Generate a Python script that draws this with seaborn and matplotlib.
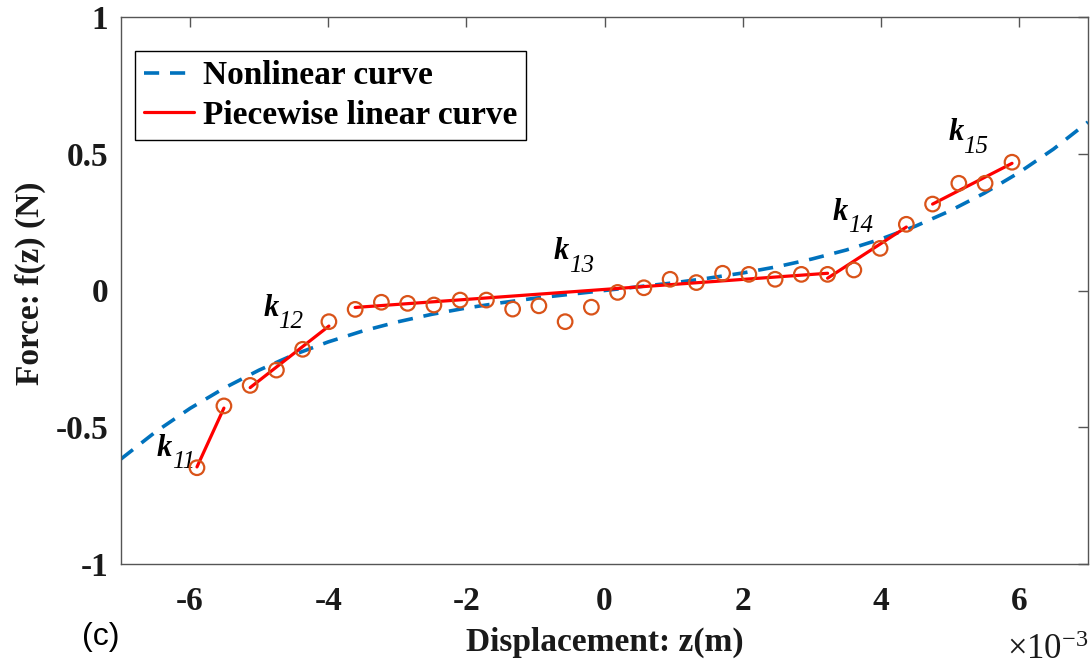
import numpy as np
import pandas as pd
import matplotlib
matplotlib.use("Agg")
import matplotlib.pyplot as plt
import seaborn as sns

# ---- data (x in units of 1e-3 m) ----
curve_x = [-7.0, -6.5, -6.0, -5.5, -5.0, -4.5, -4.0, -3.5, -3.0, -2.5, -2.0, -1.5, -1.0, -0.5, 0.0,
           0.5, 1.0, 1.5, 2.0, 2.5, 3.0, 3.5, 4.0, 4.5, 5.0, 5.5, 6.0, 6.5, 7.0]
curve_y = [-0.616, -0.517, -0.431, -0.356, -0.291, -0.235, -0.188, -0.148, -0.115, -0.087, -0.064,
           -0.045, -0.028, -0.014, 0.0, 0.014, 0.028, 0.045, 0.064, 0.087, 0.115, 0.148, 0.188,
           0.235, 0.291, 0.356, 0.431, 0.517, 0.616]

point_x = [-5.90, -5.51, -5.13, -4.75, -4.37, -3.99, -3.61, -3.23, -2.85, -2.47, -2.09, -1.71,
           -1.33, -0.95, -0.57, -0.19, 0.19, 0.57, 0.95, 1.33, 1.71, 2.09, 2.47, 2.85, 3.23, 3.61,
           3.99, 4.37, 4.75, 5.13, 5.51, 5.90]
point_y = [-0.648, -0.422, -0.347, -0.291, -0.215, -0.114, -0.069, -0.043, -0.047, -0.053, -0.035,
           -0.035, -0.068, -0.056, -0.114, -0.061, -0.007, 0.010, 0.041, 0.029, 0.063, 0.059, 0.041,
           0.059, 0.059, 0.075, 0.154, 0.242, 0.316, 0.392, 0.392, 0.469]

seg_names = ["k11", "k11", "k12", "k12", "k13", "k13", "k14", "k14", "k15", "k15"]
seg_x = [-5.90, -5.51, -5.13, -3.99, -3.61, 3.23, 3.23, 4.37, 4.75, 5.90]
seg_y = [-0.645, -0.430, -0.355, -0.130, -0.062, 0.063, 0.045, 0.232, 0.316, 0.465]

k_subscripts = ["11", "12", "13", "14", "15"]
k_label_x = [-6.375, -4.83, -0.63, 3.415, 5.087]
k_label_y = [-0.576, -0.064, 0.141, 0.287, 0.576]

x_ticks = [-6, -4, -2, 0, 2, 4, 6]
y_ticks = [-1, -0.5, 0, 0.5, 1]
y_tick_labels = ["-1", "-0.5", "0", "0.5", "1"]

# ---- style ----
sns.set_theme(style="white")
plt.rcParams["font.family"] = ["Liberation Serif", "DejaVu Serif"]
plt.rcParams["font.weight"] = "bold"
plt.rcParams["mathtext.fontset"] = "custom"
plt.rcParams["mathtext.rm"] = "Liberation Serif:weight=normal"
plt.rcParams["mathtext.it"] = "Liberation Serif:style=italic:weight=normal"

fig = plt.figure(figsize=(10.91, 6.67), dpi=100)
ax = fig.add_axes([121 / 1091, 103 / 667, 967 / 1091, 547 / 667])

curve_df = pd.DataFrame({"x": curve_x, "y": curve_y})
seg_df = pd.DataFrame({"x": seg_x, "y": seg_y, "seg": seg_names})
pts_df = pd.DataFrame({"x": point_x, "y": point_y})

sns.lineplot(data=curve_df, x="x", y="y", ax=ax, color="#0072BD", linewidth=2.6,
             sort=False, estimator=None, zorder=2)
curve_handle = ax.lines[-1]
curve_handle.set_dashes((4.2, 3.0))
sns.lineplot(data=seg_df, x="x", y="y", units="seg", estimator=None, ax=ax, color="#FF0000",
             linewidth=2.3, sort=False, zorder=3)
seg_handle = ax.lines[-1]
sns.scatterplot(data=pts_df, x="x", y="y", ax=ax, marker="o", s=110, facecolor="none",
                edgecolor="#D95319", linewidth=1.6, zorder=4)

for sub, lx, ly in zip(k_subscripts, k_label_x, k_label_y):
    ax.text(lx, ly, "k", fontsize=22, fontstyle="italic", fontweight="bold",
            ha="center", va="center", color="black")
    ax.annotate(sub, xy=(lx, ly), xytext=(5.5, -10), textcoords="offset points",
                fontsize=18, fontstyle="italic", fontweight="normal",
                ha="left", va="center", color="black")

ax.set_xlim(-7, 7)
ax.set_ylim(-1, 1)
ax.set_xticks(x_ticks)
ax.set_xticklabels([str(t) for t in x_ticks])
ax.set_yticks(y_ticks)
ax.set_yticklabels(y_tick_labels)
ax.tick_params(axis="both", direction="in", length=7, width=1, color="#555555",
               labelsize=24, top=True, right=True, labelcolor="#1a1a1a")
ax.tick_params(axis="x", pad=16)
ax.tick_params(axis="y", pad=9)
for lbl in ax.get_xticklabels() + ax.get_yticklabels():
    lbl.set_fontweight("bold")
for sp in ax.spines.values():
    sp.set_visible(True)
    sp.set_color("#555555")
    sp.set_linewidth(1.0)

ax.set_xlabel("")
ax.set_ylabel("")
fig.text(605 / 1091, 1 - 642 / 667, "Displacement: z(m)", fontsize=24, fontweight="bold",
         ha="center", va="center", color="#1a1a1a")
fig.text(30 / 1091, 1 - 283 / 667, "Force: f(z) (N)", fontsize=24, fontweight="bold",
         ha="center", va="center", rotation=90, color="#1a1a1a")
fig.text(1088 / 1091, 1 - 659 / 667, r"$\times10^{-3}$", fontsize=25, ha="right",
         va="baseline", color="#1a1a1a")
fig.text(101 / 1091, 1 - 637 / 667, "(c)", fontsize=23, ha="center", va="center",
         family=["Liberation Sans"], fontweight="normal", color="black")

leg = ax.legend([curve_handle, seg_handle], ["Nonlinear curve", "Piecewise linear curve"],
                loc="upper left", bbox_to_anchor=(0.0145, 0.938),
                prop={"weight": "bold", "size": 24}, frameon=True, fancybox=False,
                edgecolor="black", framealpha=1, handlelength=1.5, handletextpad=0.25,
                labelspacing=0.25, borderpad=0.28, borderaxespad=0)
leg.get_frame().set_linewidth(1.0)
for t in leg.get_texts():
    t.set_color("black")

fig.savefig("out.png", dpi=100)
